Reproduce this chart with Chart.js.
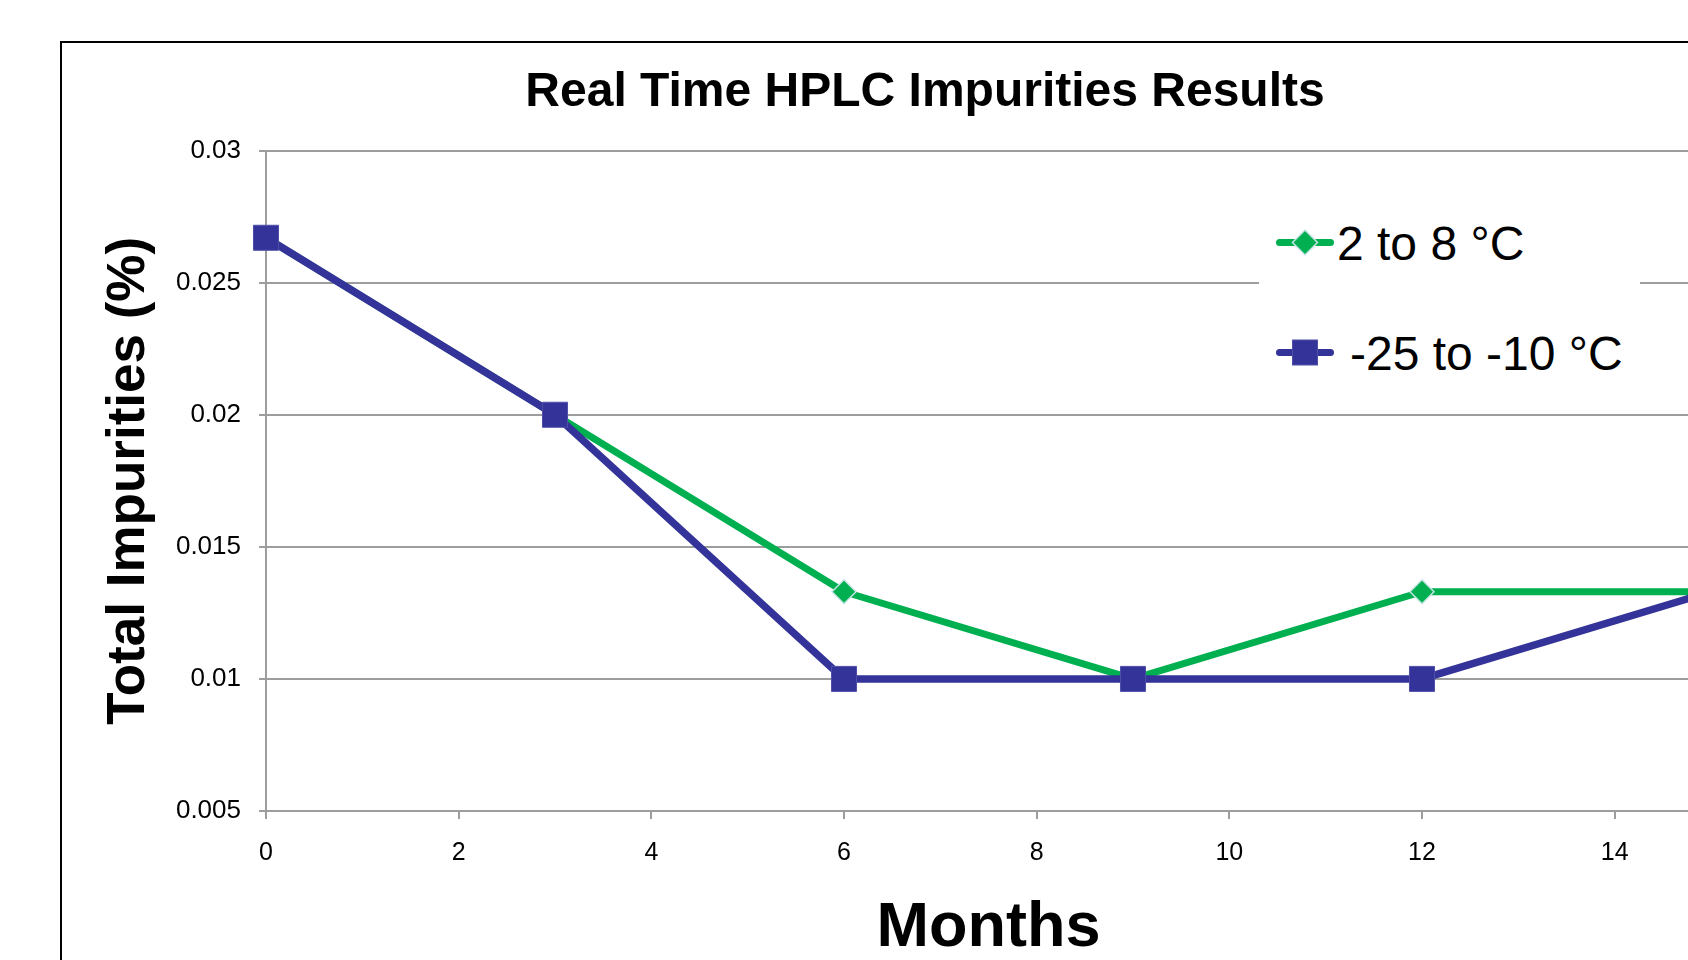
<!DOCTYPE html>
<html>
<head>
<meta charset="utf-8">
<script src="https://cdn.jsdelivr.net/npm/chart.js@4/dist/chart.umd.min.js"></script>
<style>
html,body{margin:0;padding:0;width:1688px;height:960px;overflow:hidden;background:#fff;}
#frame{position:absolute;left:60px;top:41px;width:1740px;height:1000px;border:2px solid #000;box-sizing:border-box;}
#wrap{position:absolute;left:0;top:0;width:1850px;height:960px;}
#legend{position:absolute;left:1259px;top:198px;width:381px;height:196px;background:#fff;font-family:'Liberation Sans',Arial,sans-serif;font-size:48px;color:#000;}
.item{position:absolute;left:17px;height:60px;display:flex;align-items:center;white-space:nowrap;}
.item svg{display:block;flex:none;}
</style>
</head>
<body>
<div id="frame"></div>
<div id="wrap"><canvas id="c" width="1850" height="960"></canvas></div>
<div id="legend"></div>
<script>
// ---- data ----
const months = [0, 3, 6, 9, 12, 15];
const seriesNames = ['2 to 8 °C', '-25 to -10 °C'];
const fridgeValues = [0.0267, 0.02, 0.0133, 0.01, 0.0133, 0.0133];
const freezerValues = [0.0267, 0.02, 0.01, 0.01, 0.01, 0.0133];
const xTickValues = [0, 2, 4, 6, 8, 10, 12, 14];
const yTickValues = [0.005, 0.01, 0.015, 0.02, 0.025, 0.03];
const chartTitle = 'Real Time HPLC Impurities Results';
const xTitle = 'Months';
const yTitle = 'Total Impurities (%)';

const GREEN = '#00B050';
const BLUE = '#333399';
const GRID = '#9d9d9d';
const FONT = "'Liberation Sans', Arial, sans-serif";

Chart.defaults.font.family = FONT;
Chart.defaults.color = '#000';

const toPoints = vals => months.map((m, i) => ({x: m, y: vals[i]}));

new Chart(document.getElementById('c'), {
  type: 'line',
  data: {
    datasets: [
      {
        label: seriesNames[0],
        data: toPoints(fridgeValues),
        borderColor: GREEN,
        backgroundColor: GREEN,
        borderWidth: 7,
        borderJoinStyle: 'round',
        borderCapStyle: 'round',
        pointStyle: 'rectRot',
        pointRadius: 12,
        pointBackgroundColor: GREEN,
        pointBorderColor: '#c6e4e4',
        pointBorderWidth: 1.5,
        tension: 0,
        order: 1,
        clip: false
      },
      {
        label: seriesNames[1],
        data: toPoints(freezerValues),
        borderColor: BLUE,
        backgroundColor: BLUE,
        borderWidth: 7.5,
        borderJoinStyle: 'round',
        borderCapStyle: 'round',
        pointStyle: 'rect',
        pointRadius: 17.7,
        pointBackgroundColor: BLUE,
        pointBorderColor: '#5050a8',
        pointBorderWidth: 1,
        tension: 0,
        order: 0,
        clip: false
      }
    ]
  },
  options: {
    responsive: false,
    devicePixelRatio: 1,
    animation: false,
    events: [],
    layout: {padding: 0},
    plugins: {
      legend: {display: false},
      tooltip: {enabled: false},
      title: {
        display: true,
        text: chartTitle,
        color: '#000',
        font: {family: FONT, size: 48, weight: 'bold', lineHeight: 1.2},
        padding: {top: 64, bottom: 29}
      }
    },
    scales: {
      x: {
        type: 'linear',
        min: 0,
        max: 15,
        afterBuildTicks: s => { s.ticks = xTickValues.map(v => ({value: v})); },
        afterFit: s => { s.height = 149; },
        grid: {drawOnChartArea: false, drawTicks: true, tickLength: 8, color: GRID, lineWidth: 2},
        border: {display: true, color: GRID, width: 2},
        ticks: {
          font: {family: FONT, size: 25},
          color: '#000',
          padding: 19,
          maxRotation: 0,
          autoSkip: false,
          callback: v => String(v)
        },
        title: {
          display: true,
          text: xTitle,
          color: '#000',
          font: {family: FONT, size: 63, weight: 'bold', lineHeight: 1.0},
          padding: {top: 0, bottom: 0}
        }
      },
      y: {
        type: 'linear',
        min: 0.005,
        max: 0.03,
        afterBuildTicks: s => { s.ticks = yTickValues.map(v => ({value: v})); },
        afterFit: s => { s.width = 266; },
        grid: {drawOnChartArea: true, drawTicks: true, tickLength: 7, color: GRID, lineWidth: 2},
        border: {display: true, color: GRID, width: 2},
        ticks: {
          font: {family: FONT, size: 26},
          color: '#000',
          padding: 18,
          autoSkip: false,
          callback: v => String(v)
        },
        title: {
          display: true,
          text: yTitle,
          color: '#000',
          font: {family: FONT, size: 53, weight: 'bold', lineHeight: 1.2},
          padding: {top: 98, bottom: 0}
        }
      },
      // empty right-hand margin of the plot (keeps the title centred on the whole chart)
      yRight: {
        type: 'linear',
        position: 'right',
        display: true,
        min: 0,
        max: 1,
        afterFit: s => { s.width = 139; },
        grid: {display: false, drawOnChartArea: false, drawTicks: false},
        border: {display: false},
        ticks: {display: false},
        title: {display: false}
      }
    }
  }
});

// ---- legend (HTML) ----
const legend = document.getElementById('legend');
const legendDefs = [
  {name: seriesNames[0], color: GREEN, shape: 'diamond', top: 15, gap: 3},
  {name: seriesNames[1], color: BLUE, shape: 'square', top: 125, gap: 16}
];
legendDefs.forEach(d => {
  const item = document.createElement('div');
  item.className = 'item';
  item.style.top = d.top + 'px';
  const marker = d.shape === 'diamond'
    ? `<polygon points="29,17 41.5,29.5 29,42 16.5,29.5" fill="${d.color}" stroke="#c6e4e4" stroke-width="1.5"/>`
    : `<rect x="16.5" y="17" width="25" height="25" fill="${d.color}" stroke="#5050a8" stroke-width="1"/>`;
  item.innerHTML = `<svg width="58" height="60" viewBox="0 0 58 60"><line x1="3.5" y1="29.5" x2="54.5" y2="29.5" stroke="${d.color}" stroke-width="7" stroke-linecap="round"/>${marker}</svg><span style="margin-left:${d.gap}px">${d.name}</span>`;
  legend.appendChild(item);
});
</script>
</body>
</html>
